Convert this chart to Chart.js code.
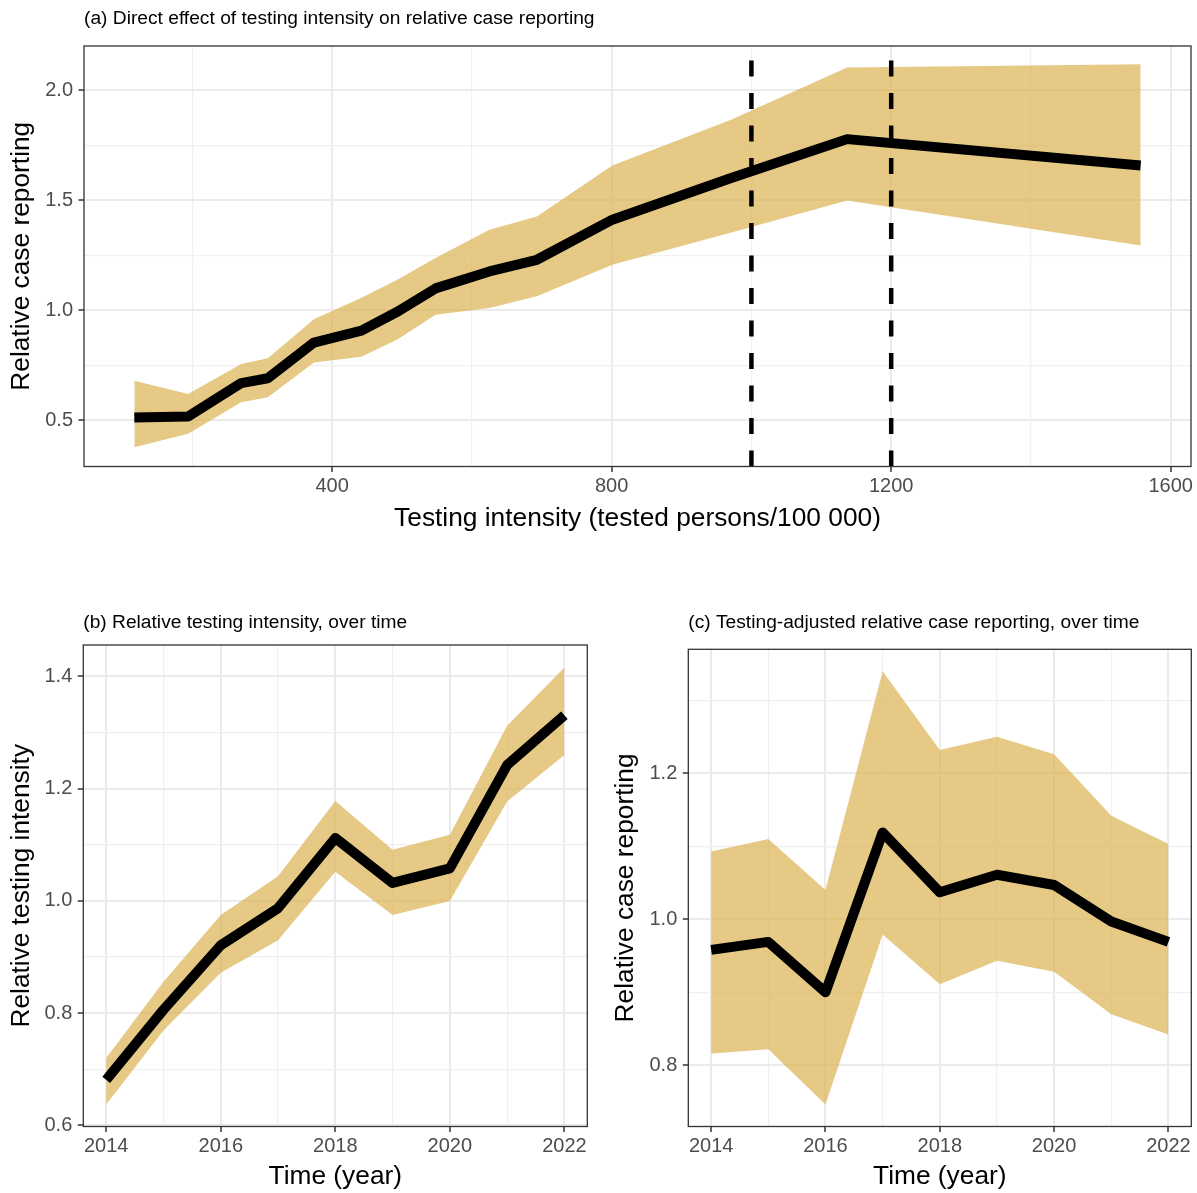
<!DOCTYPE html>
<html>
<head>
<meta charset="utf-8">
<script src="https://cdn.jsdelivr.net/npm/chart.js@4.4.1/dist/chart.umd.min.js"></script>
<style>
  html, body { margin: 0; padding: 0; background: #ffffff; }
  #wrap { position: relative; width: 1197px; height: 1193px; overflow: hidden; background: #fff; }
  canvas { position: absolute; }
</style>
</head>
<body>
<div id="wrap">
  <canvas id="chartA" width="1197" height="540" style="left:0px;top:0px;width:1197px;height:540px"></canvas>
  <canvas id="chartB" width="600" height="603" style="left:0px;top:590px;width:600px;height:603px"></canvas>
  <canvas id="chartC" width="597" height="603" style="left:600px;top:590px;width:597px;height:603px"></canvas>
</div>
<script>
// ---------------- Data ----------------
// (a) Direct effect of testing intensity on relative case reporting
const intensity    = [117, 194, 270, 308, 374, 442, 494, 548, 625, 693, 801, 970, 1137, 1557];
const reportMean   = [0.514, 0.518, 0.670, 0.692, 0.854, 0.908, 0.995, 1.100, 1.177, 1.230, 1.412, 1.600, 1.778, 1.658];
const reportLower  = [0.378, 0.440, 0.583, 0.606, 0.763, 0.790, 0.869, 0.980, 1.011, 1.064, 1.207, 1.353, 1.499, 1.295];
const reportUpper  = [0.680, 0.620, 0.757, 0.783, 0.960, 1.057, 1.140, 1.238, 1.366, 1.426, 1.658, 1.865, 2.103, 2.118];
const thresholds   = [1000, 1200];

// (b) Relative testing intensity, over time
const years        = [2014, 2015, 2016, 2017, 2018, 2019, 2020, 2021, 2022];
const testingMean  = [0.681, 0.806, 0.921, 0.987, 1.112, 1.032, 1.058, 1.242, 1.331];
const testingLower = [0.637, 0.769, 0.872, 0.930, 1.052, 0.975, 1.000, 1.177, 1.260];
const testingUpper = [0.720, 0.856, 0.975, 1.044, 1.178, 1.091, 1.118, 1.312, 1.416];

// (c) Testing-adjusted relative case reporting, over time
const adjustedMean  = [0.958, 0.969, 0.900, 1.119, 1.037, 1.061, 1.047, 0.997, 0.969];
const adjustedLower = [0.816, 0.822, 0.746, 0.979, 0.911, 0.943, 0.928, 0.870, 0.842];
const adjustedUpper = [1.093, 1.110, 1.040, 1.340, 1.232, 1.250, 1.226, 1.142, 1.103];

// Tick values and labels ('' = minor gridline only)
const aXTicks  = [200, 400, 600, 800, 1000, 1200, 1400, 1600];
const aXLabels = ['', '400', '', '800', '', '1200', '', '1600'];
const aYTicks  = [0.5, 0.75, 1.0, 1.25, 1.5, 1.75, 2.0];
const aYLabels = ['0.5', '', '1.0', '', '1.5', '', '2.0'];
const yearTicks  = [2014, 2015, 2016, 2017, 2018, 2019, 2020, 2021, 2022];
const yearLabels = ['2014', '', '2016', '', '2018', '', '2020', '', '2022'];
const bYTicks  = [0.6, 0.7, 0.8, 0.9, 1.0, 1.1, 1.2, 1.3, 1.4];
const bYLabels = ['0.6', '', '0.8', '', '1.0', '', '1.2', '', '1.4'];
const cYTicks  = [0.8, 0.9, 1.0, 1.1, 1.2, 1.3];
const cYLabels = ['0.8', '', '1.0', '', '1.2', ''];

// Axis ranges
const aXRange = [45, 1629];
const aYRange = [0.291, 2.201];
const yearRange = [2013.6, 2022.4];
const bYRange = [0.598, 1.456];
const cYRange = [0.716, 1.370];

// ---------------- Styling ----------------
const FONT = '"Liberation Sans", Arial, Helvetica, sans-serif';
const BAND = 'rgba(218,178,81,0.7)';

function pts(xs, ys) { return xs.map((x, i) => ({ x: x, y: ys[i] })); }

function axisConfig(ticks, labels, range, fitSize, titleText, titlePad, tickPad) {
  return {
    type: 'linear',
    min: range[0],
    max: range[1],
    afterBuildTicks: s => { s.ticks = ticks.map(v => ({ value: v })); },
    afterFit: s => { if (s.isHorizontal()) s.height = fitSize; else s.width = fitSize; },
    ticks: {
      autoSkip: false, maxRotation: 0, minRotation: 0,
      padding: tickPad,
      color: '#4D4D4D',
      font: { family: FONT, size: 20, lineHeight: 1.2 },
      callback: (v, i) => labels[i]
    },
    grid: {
      drawTicks: true,
      tickLength: 5.5,
      color: c => labels[c.index] ? '#EBEBEB' : '#F0F0F0',
      lineWidth: c => labels[c.index] ? 2 : 1.2,
      tickColor: c => labels[c.index] ? '#333333' : 'rgba(0,0,0,0)',
      tickWidth: 1.5
    },
    border: { display: false },
    title: {
      display: true,
      text: titleText,
      color: '#000000',
      font: { family: FONT, size: 26.3, lineHeight: 1 },
      padding: titlePad
    }
  };
}

const panelPlugin = {
  id: 'panel',
  afterDraw(chart, args, o) {
    const { ctx, chartArea: a } = chart;
    ctx.save();
    ctx.strokeStyle = '#333333';
    ctx.lineWidth = 1.3;
    ctx.strokeRect(a.left, a.top, a.right - a.left, a.bottom - a.top);
    ctx.fillStyle = '#000000';
    ctx.font = '19.2px ' + FONT;
    ctx.textAlign = 'left';
    ctx.textBaseline = 'alphabetic';
    ctx.fillText(o.text, a.left, o.baseline);
    ctx.restore();
  }
};

function bandDatasets(xs, lower, upper, mean) {
  return [
    { data: pts(xs, lower), borderWidth: 0, pointRadius: 0, fill: false, backgroundColor: BAND, borderColor: 'rgba(0,0,0,0)', order: 5 },
    { data: pts(xs, upper), borderWidth: 0, pointRadius: 0, fill: '-1', backgroundColor: BAND, borderColor: 'rgba(0,0,0,0)', order: 4 },
    { data: pts(xs, mean), borderWidth: 10, pointRadius: 0, fill: false, borderColor: '#000000',
      borderJoinStyle: 'round', borderCapStyle: 'butt', tension: 0, order: 2 }
  ];
}

function baseOptions(padTop, padRight, xAxis, yAxis, title, baseline) {
  return {
    responsive: false,
    animation: false,
    events: [],
    devicePixelRatio: 1,
    layout: { autoPadding: false, padding: { left: 0, top: padTop, right: padRight, bottom: 0 } },
    plugins: {
      legend: { display: false },
      tooltip: { enabled: false },
      title: { display: false },
      panel: { text: title, baseline: baseline }
    },
    scales: { x: xAxis, y: yAxis }
  };
}

// ---------------- Panel (a) ----------------
const aDatasets = bandDatasets(intensity, reportLower, reportUpper, reportMean);
thresholds.forEach(t => {
  aDatasets.push({
    data: [{ x: t, y: aYRange[0] }, { x: t, y: aYRange[1] }],
    borderWidth: 4.5, borderDash: [16, 16.5], borderColor: '#000000',
    pointRadius: 0, fill: false, order: 1, borderCapStyle: 'butt'
  });
});
new Chart(document.getElementById('chartA'), {
  type: 'line',
  data: { datasets: aDatasets },
  options: baseOptions(46, 6,
    axisConfig(aXTicks, aXLabels, aXRange, 73.5, 'Testing intensity (tested persons/100 000)', { top: 0, bottom: 8 }, 2.8),
    axisConfig(aYTicks, aYLabels, aYRange, 84, 'Relative case reporting', { top: 9, bottom: 0 }, 5.5),
    '(a) Direct effect of testing intensity on relative case reporting', 24.3),
  plugins: [panelPlugin]
});

// ---------------- Panel (b) ----------------
new Chart(document.getElementById('chartB'), {
  type: 'line',
  data: { datasets: bandDatasets(years, testingLower, testingUpper, testingMean) },
  options: baseOptions(55, 12.7,
    axisConfig(yearTicks, yearLabels, yearRange, 66.5, 'Time (year)', { top: 0, bottom: 3 }, 2.8),
    axisConfig(bYTicks, bYLabels, bYRange, 83.3, 'Relative testing intensity', { top: 8.5, bottom: 0 }, 5.5),
    '(b) Relative testing intensity, over time', 38.3),
  plugins: [panelPlugin]
});

// ---------------- Panel (c) ----------------
new Chart(document.getElementById('chartC'), {
  type: 'line',
  data: { datasets: bandDatasets(years, adjustedLower, adjustedUpper, adjustedMean) },
  options: baseOptions(59.3, 5.7,
    axisConfig(yearTicks, yearLabels, yearRange, 66.5, 'Time (year)', { top: 0, bottom: 3 }, 2.8),
    axisConfig(cYTicks, cYLabels, cYRange, 88.3, 'Relative case reporting', { top: 13, bottom: 0 }, 5.5),
    '(c) Testing-adjusted relative case reporting, over time', 38.3),
  plugins: [panelPlugin]
});
</script>
</body>
</html>
